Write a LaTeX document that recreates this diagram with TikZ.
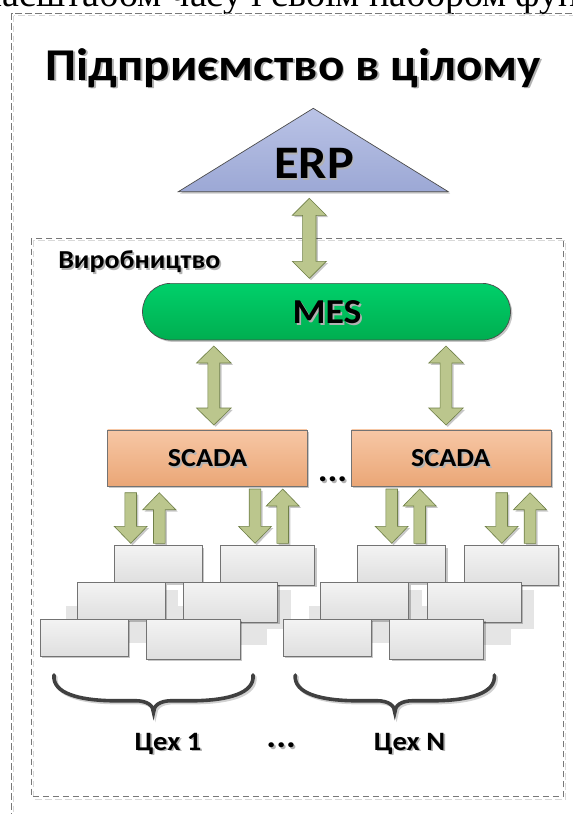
\documentclass[tikz,border=0pt]{standalone}
\usepackage{fontspec}
\setmainfont{Carlito}
\newfontfamily\bodyserif{Liberation Serif}
\usetikzlibrary{calc,shadows}

\definecolor{erptop}{RGB}{186,195,230}
\definecolor{erpbot}{RGB}{156,168,213}
\definecolor{mestop}{RGB}{0,208,106}
\definecolor{mesbot}{RGB}{0,174,80}
\definecolor{scadatop}{RGB}{247,199,165}
\definecolor{scadabot}{RGB}{234,166,118}
\definecolor{celltop}{RGB}{243,243,243}
\definecolor{cellbot}{RGB}{223,223,223}
\definecolor{cellshade}{RGB}{229,229,229}
\definecolor{arrowfill}{RGB}{187,198,141}
\definecolor{arrowline}{RGB}{112,128,72}
\definecolor{frameline}{RGB}{120,120,120}

\tikzset{
  softshadow/.style={drop shadow={shadow xshift=1.8pt, shadow yshift=-1.8pt, fill=black, opacity=0.22}},
  blockarrow/.style={fill=arrowfill, draw=arrowline, line width=0.6pt, line join=miter, softshadow},
  cell/.style={draw=black!55, line width=0.8pt, top color=celltop, bottom color=cellbot,
    anchor=north west, inner sep=0pt, outer sep=0pt, softshadow},
  cellL/.style={cell, minimum width=88pt, minimum height=37pt},
  cellR/.style={cell, minimum width=94pt, minimum height=39.6pt},
  lbl/.style={inner sep=0pt, outer sep=0pt},
  frame/.style={draw=frameline, line width=0.7pt, dash pattern=on 6.5pt off 3.5pt},
  frameghost/.style={draw=black!15, line width=0.7pt, dash pattern=on 6.5pt off 3.5pt},
  scadabox/.style={draw=black!55, line width=0.8pt, top color=scadatop, bottom color=scadabot,
    minimum width=199.3pt, minimum height=56.7pt, inner sep=0pt, softshadow},
  pics/curlybrace/.style={code={
    \foreach \dx/\col in {1.8/black!18, 0/black!75}{
      \draw[draw=\col, line width=3.6pt, line cap=round, shift={(\dx,\dx)}]
        (-99.5,-37.5) .. controls (-101.5,-19) and (-73.5,-12.5) .. (-43.5,-11.8)
        -- (-18.5,-11.8) .. controls (-5.5,-11.8) and (0,-6.5) .. (0,0)
        .. controls (0,-6.5) and (5.5,-11.8) .. (18.5,-11.8)
        -- (43.5,-11.8) .. controls (73.5,-12.5) and (101.5,-19) .. (99.5,-37.5);
    }
  }},
}

% bold label, slightly widened, with a soft grey copy behind it
\newcommand\shlabel[5]{%
  \node[lbl, anchor=#4, font={\fontsize{#3}{#3}\selectfont\bfseries}, text=black!30]
    (#1-sh) at ($#2+(1.8,1.8)$) {\scalebox{1.08}[1]{#5}};
  \node[lbl, anchor=#4, font={\fontsize{#3}{#3}\selectfont\bfseries}] (#1) at #2
    {\scalebox{1.08}[1]{#5}};}

% block arrows: two-way (top tip, bottom tip, head half-width, shaft half-width)
\newcommand\blktwoway[4]{%
  \draw[blockarrow] let \p1=(#1), \p2=(#2) in
    (\x1,\y1) -- (\x1+#3,\y1-17pt) -- (\x1+#4,\y1-17pt) -- (\x1+#4,\y2+17pt)
    -- (\x1+#3,\y2+17pt) -- (\x1,\y2) -- (\x1-#3,\y2+17pt) -- (\x1-#4,\y2+17pt)
    -- (\x1-#4,\y1-17pt) -- (\x1-#3,\y1-17pt) -- cycle;}
% downward arrow (tail, tip)
\newcommand\blkdown[2]{%
  \draw[blockarrow] let \p1=(#1), \p2=(#2) in
    (\x1-5.8pt,\y1) -- (\x1+5.8pt,\y1) -- (\x1+5.8pt,\y2+17pt) -- (\x1+16.5pt,\y2+17pt)
    -- (\x1,\y2) -- (\x1-16.5pt,\y2+17pt) -- (\x1-5.8pt,\y2+17pt) -- cycle;}
% upward arrow (tail, tip)
\newcommand\blkup[2]{%
  \draw[blockarrow] let \p1=(#1), \p2=(#2) in
    (\x1-5.8pt,\y1) -- (\x1+5.8pt,\y1) -- (\x1+5.8pt,\y2-17pt) -- (\x1+16.5pt,\y2-17pt)
    -- (\x1,\y2) -- (\x1-16.5pt,\y2-17pt) -- (\x1-5.8pt,\y2-17pt) -- cycle;}

\begin{document}
\begin{tikzpicture}[x=1pt,y=-1pt]
\useasboundingbox (0,0) rectangle (573,814);
\clip (0,0) rectangle (573,814);

% line of running text above the figure
\node[lbl, anchor=base west, font={\bodyserif\fontsize{38pt}{38pt}\selectfont}]
  (pagetext) at (-21,6.7) {масштабом часу і своїм набором функцій};

% frames
\draw[frameghost] (13.8,15.6) rectangle (640,880);
\draw[frame] (11.5,13.3) rectangle (640,880);
\draw[frameghost] (33.3,240.8) rectangle (565.8,799);
\draw[frame] (31,238.5) rectangle (563.5,796.7);

% enterprise level
\shlabel{title}{(293.3,80)}{45.5pt}{base}{Підприємство в цілому}
\path[draw=black!70, line width=0.7pt, top color=erptop, bottom color=erpbot, softshadow]
  (178.3,191.7) -- (313.3,108.3) -- (448.3,191.7) -- cycle;
\shlabel{erp}{(314,178.3)}{46.6pt}{base}{ERP}

% production level
\shlabel{prod}{(58.3,268.3)}{25.9pt}{base west}{Виробництво}
\node[draw=black!70, line width=0.7pt, top color=mestop, bottom color=mesbot,
  minimum width=368pt, minimum height=56.7pt, rounded corners=28.3pt, inner sep=0pt,
  softshadow] (mes) at (326.5,311.7) {};
\shlabel{meslbl}{(327,323.3)}{35pt}{base}{MES}

\node[scadabox] (scada1) at (207.3,458.3) {};
\node[scadabox] (scada2) at (451.3,458.3) {};
\shlabel{scada1lbl}{(207.5,466.7)}{26pt}{base}{SCADA}
\shlabel{scada2lbl}{(450.8,466.7)}{26pt}{base}{SCADA}
\shlabel{gap}{(332.5,481.5)}{34pt}{base}{...}

% ERP <-> MES <-> SCADA
\coordinate (erpfoot) at (309.3,198.3);
\coordinate (mesin) at (309.3,278.3);
\blktwoway{erpfoot}{mesin}{17pt}{6.7pt}
\coordinate (mesout1) at (213.8,346);
\coordinate (scin1) at (213.8,425);
\coordinate (mesout2) at (446,346);
\coordinate (scin2) at (446,425);
\blktwoway{mesout1}{scin1}{17.3pt}{5.9pt}
\blktwoway{mesout2}{scin2}{17.3pt}{5.9pt}

% SCADA <-> equipment
\foreach \i/\d/\u/\t in {1/130.7/159.3/492.7, 2/255/282.7/489, 3/391.7/419.7/489, 4/501.7/530/492.7}{
  \coordinate (dn\i-top) at (\d,\t);
  \coordinate (dn\i-tip) at (\d,543.3);
  \coordinate (up\i-tail) at (\u,543.3);
  \coordinate (up\i-tip) at (\u,\t);
  \blkdown{dn\i-top}{dn\i-tip}
  \blkup{up\i-tail}{up\i-tip}
}

% equipment stacks of the two shops
\foreach \g/\dx in {1/0, 2/243.4}{
  \begin{scope}[xshift=\dx]
    \fill[cellshade] (90.3,589.7) rectangle (178.3,626.7);
    \fill[cellshade] (65.8,605.7) rectangle (153.8,642.7);
    \fill[cellshade] (196.7,589.7) rectangle (290.7,629.3);
    \fill[cellshade] (173.2,605.7) rectangle (267.2,645.3);
    \node[cellL] (c\g-1l) at (114.3,545.7) {};
    \node[cellR] (c\g-1r) at (220.7,545.7) {};
    \node[cellL] (c\g-2l) at (77.3,582.7) {};
    \node[cellR] (c\g-2r) at (183.7,582.7) {};
    \node[cellL] (c\g-3l) at (40,619.3) {};
    \node[cellR] (c\g-3r) at (146.3,619.3) {};
  \end{scope}
}

% shop braces and names
\pic at (153.5,712.5) {curlybrace};
\pic at (394.8,712.5) {curlybrace};
\shlabel{shop1}{(168,750)}{26.5pt}{base}{Цех 1}
\shlabel{more}{(281.2,747.5)}{34pt}{base}{...}
\shlabel{shopn}{(409.5,750)}{26.5pt}{base}{Цех N}
\end{tikzpicture}
\end{document}
